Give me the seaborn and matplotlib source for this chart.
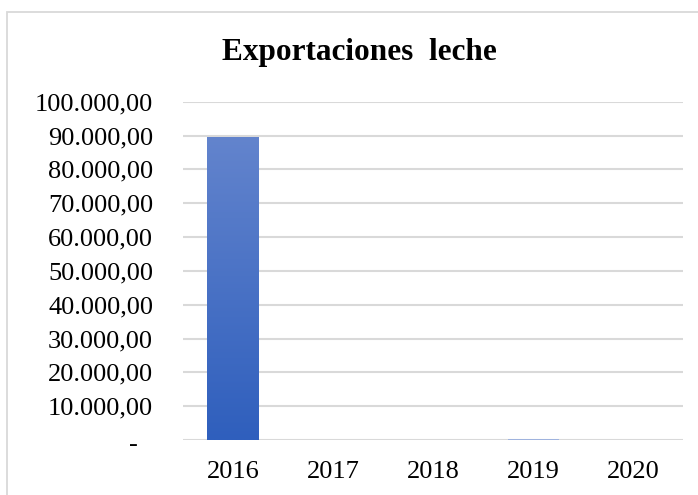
import numpy as np
import pandas as pd
import matplotlib
matplotlib.use("Agg")
import matplotlib.pyplot as plt
import matplotlib.transforms as mtransforms
from matplotlib.ticker import FuncFormatter, MultipleLocator
from matplotlib.colors import LinearSegmentedColormap
from matplotlib.patches import Rectangle
import seaborn as sns

years = ["2016", "2017", "2018", "2019", "2020"]
values = [89700, 30, 40, 180, 30]
title = "Exportaciones  leche"

sns.set_theme(style="white")
plt.rcParams["font.family"] = ["Liberation Serif", "DejaVu Serif"]

df = pd.DataFrame({"year": years, "value": values})

fig = plt.figure(figsize=(6.98, 4.95), dpi=100)
fig.patch.set_facecolor("white")
# outer border of the chart area
fig.add_artist(Rectangle((7.5 / 698, -0.05), 1.2, (495 - 11.5) / 495 + 0.05,
                         transform=fig.transFigure, fill=False,
                         edgecolor="#d9d9d9", linewidth=1.3))

ax = fig.add_axes([183 / 698, (495 - 440) / 495, 500 / 698, (440 - 101.7) / 495])
sns.barplot(data=df, x="year", y="value", color="#9fb3de", width=0.51,
            ax=ax, zorder=3, saturation=1, linewidth=0)
ax.set_ylim(0, 100000)
ax.set_xlim(-0.5, 4.5)
ax.yaxis.set_major_locator(MultipleLocator(10000))

def fmt(v, pos):
    if abs(v) < 1:
        return "-"
    return f"{v:,.2f}".replace(",", "X").replace(".", ",").replace("X", ".")

ax.yaxis.set_major_formatter(FuncFormatter(fmt))
ax.grid(axis="y", color="#d9d9d9", linewidth=1.5, zorder=0)
ax.set_axisbelow(True)
for s in ax.spines.values():
    s.set_visible(False)
ax.set_xlabel("")
ax.set_ylabel("")
ax.tick_params(axis="y", labelsize=19, pad=21.5, length=0, colors="black")
ax.tick_params(axis="x", labelsize=19, pad=15, length=0, colors="black")

# gradient fill for tall bars
cmap = LinearSegmentedColormap.from_list("g", ["#2f5fbd", "#6384cd"])
grad = np.linspace(0, 1, 256).reshape(-1, 1)
for p in ax.patches:
    x0, y0 = p.get_x(), p.get_y()
    w, h = p.get_width(), p.get_height()
    if h < 5000:
        continue
    im = ax.imshow(grad, cmap=cmap, origin="lower", aspect="auto",
                   extent=(x0, x0 + w, y0, y0 + h), zorder=4,
                   interpolation="bilinear")
    im.set_clip_path(p)
    p.set_facecolor("none")
ax.set_xlim(-0.5, 4.5)
ax.set_ylim(0, 100000)

fig.text(359 / 698, 1 - 60 / 495, title, ha="center", va="baseline",
         fontsize=22.5, fontweight="bold", color="black")

fig.canvas.draw()
for lbl in ax.get_yticklabels():
    if lbl.get_text() == "-":
        lbl.set_transform(lbl.get_transform() +
                          mtransforms.ScaledTranslation(-0.15, -0.02, fig.dpi_scale_trans))

fig.savefig("out.png", dpi=100, facecolor="white")
